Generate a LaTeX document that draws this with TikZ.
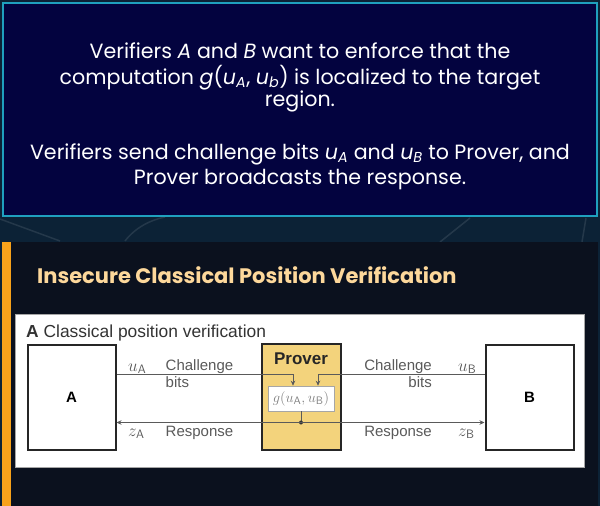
\documentclass[tikz,border=0pt]{standalone}
\usepackage{fontspec}
\setmainfont{Poppins}
\newfontfamily\figfont{Liberation Sans}
\usetikzlibrary{arrows.meta,positioning}
\definecolor{bgc}{HTML}{0C2236}
\definecolor{navyc}{HTML}{03033F}
\definecolor{cyanc}{HTML}{1FA0BE}
\definecolor{panelc}{HTML}{0B111E}
\definecolor{orangec}{HTML}{F7A21B}
\definecolor{titlec}{HTML}{FDD89B}
\definecolor{provc}{HTML}{F3D37C}
\definecolor{linec}{HTML}{5A5A5A}
\tikzset{
  tx/.style={text=white,font=\fontsize{20.6}{20.6}\selectfont,inner sep=0pt,anchor=base},
  bx/.style={draw=black!85,line width=2pt,minimum width=88pt,minimum height=105pt,inner sep=0pt,font=\figfont\bfseries\fontsize{15}{15}\selectfont},
  lb/.style={font=\figfont\fontsize{15}{15}\selectfont,text=linec,inner sep=0pt},
  ml/.style={font=\fontsize{17.5}{17.5}\selectfont,text=linec,inner sep=0pt,anchor=base west},
  ar/.style={-{Stealth[length=5pt,width=4.5pt]},linec,line width=1pt}
}
\newcommand{\ui}[1]{{\itshape u}\textsubscript{\itshape #1}}

\begin{document}
\begin{tikzpicture}[x=1pt,y=-1pt]
\useasboundingbox (0,0) rectangle (600,506);
\fill[bgc] (0,0) rectangle (600,506);
% faint background strokes
\draw[white!10!bgc,line width=1.5pt] (0,219) -- (60,241);
\draw[white!10!bgc,line width=1.5pt] (125,241) .. controls (135,228) and (150,220) .. (165,217);
\draw[white!10!bgc,line width=1.5pt] (470,218) -- (440,242);
\draw[white!10!bgc,line width=1.5pt] (586,218) -- (582,242);
% top box
\draw[cyanc,line width=2pt,fill=navyc] (3,3) rectangle (597,216);
\node[tx] (l1) at (300,58) {Verifiers \textit{A} and \textit{B} want to enforce that the};
\node[tx] (l2) at (300,84) {computation \textit{g}(\ui{A}, \ui{b}) is localized to the target};
\node[tx] (l3) at (300,106) {region.};
\node[tx] (l4) at (300,159) {Verifiers send challenge bits \ui{A} and \ui{B} to Prover, and};
\node[tx] (l5) at (300,184) {Prover broadcasts the response.};
% lower panel
\fill[panelc] (2,242) rectangle (598,506);
\fill[orangec] (2,242) rectangle (11,506);
\node[anchor=base west,inner sep=0pt,text=titlec,font=\bfseries\fontsize{21}{21}\selectfont] (ttl) at (37,283) {Insecure Classical Position Verification};
% figure
\draw[fill=white,draw=gray!70] (15,314) rectangle (584,467);
\node[lb,text=black!80,anchor=base west,font=\figfont\fontsize{17.4}{17.4}\selectfont] (cap) at (26,337) {\textbf{A} Classical position verification};
\node[bx] (A) at (71.5,397) {A};
\node[bx] (B) at (529.5,397) {B};
\node[bx,fill=provc,minimum width=79pt,minimum height=106pt] (P) at (301,396.5) {};
\node[lb,text=black!85,font=\figfont\bfseries\fontsize{17}{17}\selectfont,anchor=base] (pl) at (301,364) {Prover};
\node[draw=gray!70,fill=white,line width=0.6pt,minimum width=66pt,minimum height=25pt,inner sep=0pt,text=gray,font=\fontsize{15.5}{15.5}\selectfont] (g) at (301,398.5) {$g(u_{\mathsf{A}},u_{\mathsf{B}})$};
\coordinate (ta) at (293,374);
\coordinate (tb) at (318,374);
\coordinate (rd) at (301,422.5);
\draw[ar] (A.east |- ta) -- (ta) -- (ta |- g.north);
\draw[ar] (B.west |- tb) -- (tb) -- (tb |- g.north);
\draw[linec,line width=1pt] (g.south) -- (rd);
\fill[black!80] (rd) circle (2pt);
\draw[ar] (rd) -- (A.east |- rd);
\draw[ar] (rd) -- (B.west |- rd);
% labels
\node[ml] (ua) at (128,371) {$u_{\mathsf{A}}$};
\node[ml] (za) at (128,436) {$z_{\mathsf{A}}$};
\node[ml] (ub) at (458,371) {$u_{\mathsf{B}}$};
\node[ml] (zb) at (458,436) {$z_{\mathsf{B}}$};
\node[lb,anchor=base west] (cha) at (165.5,370) {Challenge};
\node[lb,anchor=base west] (bta) at (165.5,387) {bits};
\node[lb,anchor=base west] (rsa) at (165.5,436) {Response};
\node[lb,anchor=base east] (chb) at (432,370) {Challenge};
\node[lb,anchor=base east] (btb) at (432,387) {bits};
\node[lb,anchor=base east] (rsb) at (432,436) {Response};
\end{tikzpicture}
\end{document}
